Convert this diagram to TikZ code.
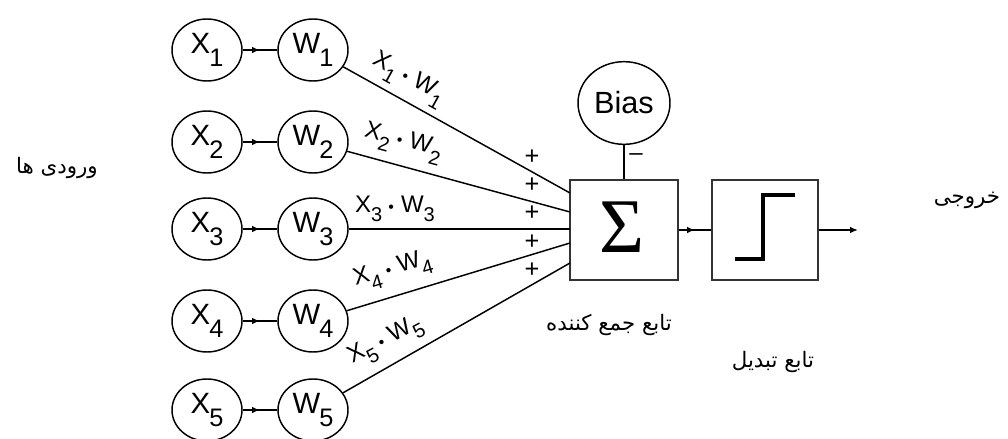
\documentclass[tikz,border=0pt]{standalone}
\usepackage{fontspec}
\setmainfont{Liberation Sans}
\newfontfamily\serifgr{Liberation Serif}
\newfontfamily\arabicfont[Script=Arabic]{DejaVu Sans}
\TeXXeTstate=1
\usetikzlibrary{shapes.geometric,arrows.meta,decorations.markings,calc}

\newcommand{\csub}[1]{\raisebox{-0.45em}{\fontsize{19}{19}\selectfont #1}}
\newcommand{\cx}[2]{\fontsize{22}{22}\selectfont #1\kern-0.03em\csub{#2}}
\newcommand{\lsub}[1]{\raisebox{-0.4em}{\fontsize{15}{15}\selectfont #1}}
\newcommand{\xw}[1]{\fontsize{18}{18}\selectfont X\lsub{#1}\hspace{0.25em}{\fontsize{12}{12}\selectfont\textbullet}\hspace{0.3em}W\lsub{#1}}

\begin{document}
\begin{tikzpicture}[x=0.75pt,y=-0.75pt,
  neuron/.style={ellipse,draw,line width=1.1pt,minimum width=52.5pt,minimum height=46.5pt,inner sep=0pt},
  blockbox/.style={draw=black!80,line width=1.3pt,minimum width=81pt,minimum height=75pt,inner sep=0pt},
  wire/.style={line width=1.1pt},
  midarrow/.style={postaction={decorate},decoration={markings,mark=at position 0.5 with {\arrow{Latex[length=6pt,width=5pt]}}}},
  lbl/.style={inner sep=0pt},
  plus/.style={inner sep=0pt,font=\fontsize{19}{19}\selectfont},
  fa/.style={inner sep=0pt,font=\arabicfont\fontsize{16}{16}\selectfont}]
\fill[white] (0,0) rectangle (1008,439);
\useasboundingbox (0,0) rectangle (1008,439);

\foreach \i/\y in {1/50,2/142,3/229,4/321,5/410} {
  \node[neuron] (X\i) at (207,\y) {\cx{X}{\i}};
  \node[neuron] (W\i) at (313,\y) {\cx{W}{\i}};
  \draw[wire,midarrow] (X\i) -- (W\i);
}

\node[blockbox] (sum) at (624,230) {};
\node[inner sep=0pt] (sig) at (622,227) {\serifgr\fontsize{58}{58}\selectfont Σ};
\node[blockbox,minimum width=79.5pt] (tf) at (765,230) {};
\draw[line width=3pt] (735,259) -- (763,259) -- (763,195) -- (795,195);

\node[ellipse,draw,line width=1.1pt,minimum width=69pt,minimum height=62pt,inner sep=0pt] (bias) at (624,103) {\fontsize{23}{23}\selectfont Bias};
\draw[wire] (bias) -- (sum);
\node[inner sep=0pt] (minus) at (636,157) {\fontsize{18}{18}\selectfont –};

\coordinate (in1) at (570,193);
\coordinate (in2) at (570,212);
\coordinate (in3) at (570,229);
\coordinate (in4) at (570,243);
\coordinate (in5) at (570,263);
\foreach \i in {1,...,5} { \draw[wire] (W\i) -- (in\i); }

\foreach \i/\y in {1/157,2/185,3/213,4/242,5/270} { \node[plus] (pl\i) at (532,\y) {+}; }

\node[lbl,rotate=-29] (p1) at (408,80) {\xw{1}};
\node[lbl,rotate=-15] (p2) at (403,143) {\xw{2}};
\node[lbl] (p3) at (395,209) {\xw{3}};
\node[lbl,rotate=16] (p4) at (393,271) {\xw{4}};
\node[lbl,rotate=28] (p5) at (386,342) {\xw{5}};

\draw[wire,midarrow] (sum) -- (tf);
\coordinate (out) at (858,230);
\draw[wire,-{Latex[length=6pt,width=5pt]}] (tf) -- (out);

\node[fa] (inlab) at (57,168) {\beginR ورودی ها\endR};
\node[fa] (outlab) at (967,200) {\beginR خروجی\endR};
\node[fa] (sumlab) at (609,325) {\beginR تابع جمع کننده\endR};
\node[fa] (tflab) at (773,362) {\beginR تابع تبدیل\endR};
\end{tikzpicture}
\end{document}
